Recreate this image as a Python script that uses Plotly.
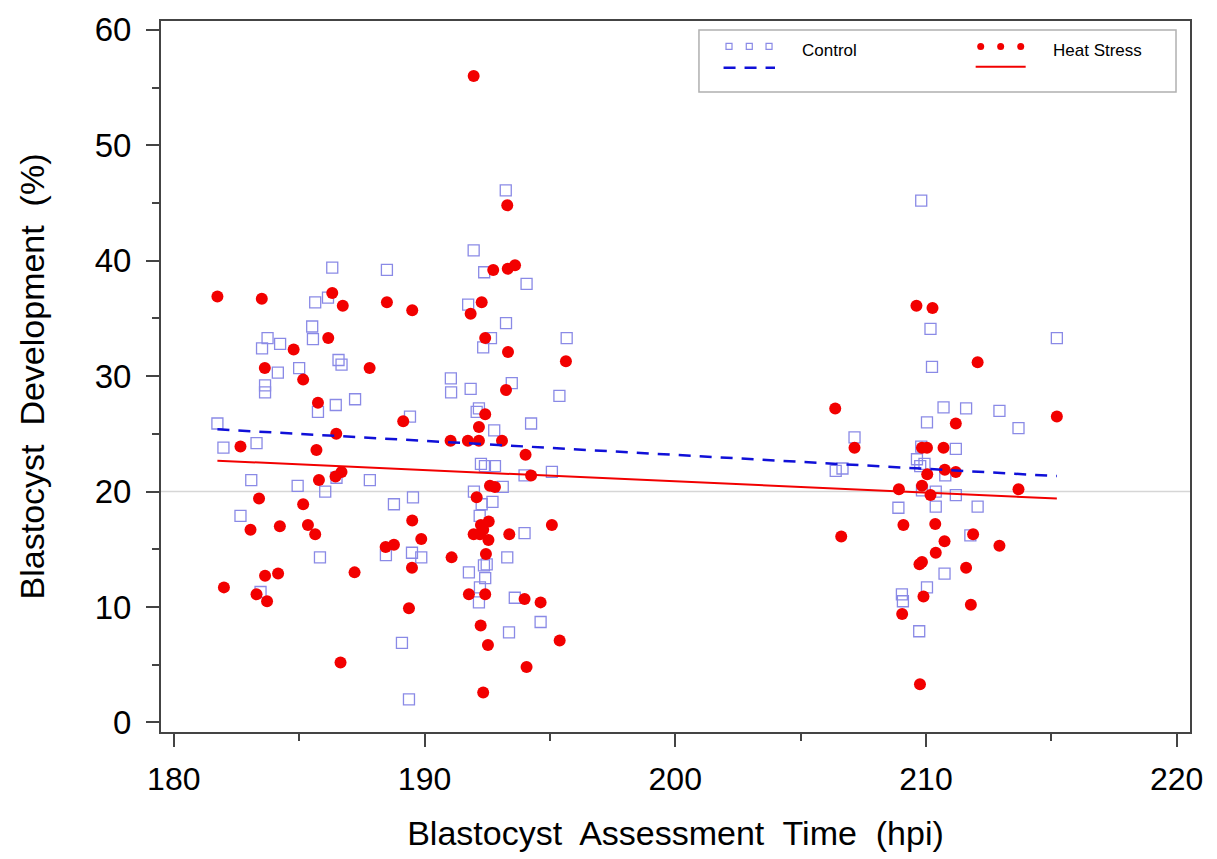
import plotly.graph_objects as go

# ---- data ----
control_x = [181.74, 181.98, 183.3, 182.66, 183.09, 183.46, 183.52, 183.74, 183.64, 183.64,
             184.24, 184.15, 185.0, 184.94, 185.52, 185.55, 185.64, 185.75, 185.83, 186.04,
             186.15, 186.32, 186.46, 186.49, 186.57, 186.69, 187.23, 187.82, 188.46, 188.5,
             188.78, 189.1, 189.38, 189.42, 189.5, 189.54, 189.87, 191.05, 191.06, 191.74,
             191.77, 191.84, 191.96, 191.97, 192.08, 192.17, 192.17, 192.2, 192.21, 192.25,
             192.28, 192.34, 192.37, 192.38, 192.41, 192.42, 192.48, 192.65, 192.71, 192.78,
             192.81, 193.12, 193.24, 193.25, 193.3, 193.37, 193.48, 193.6, 193.99, 193.99,
             194.07, 194.25, 194.63, 195.08, 195.38, 195.67,
             206.4, 206.67, 207.15, 208.9, 209.04, 209.08, 209.64, 209.73, 209.77, 209.81,
             209.81, 209.84, 209.94, 210.04, 210.04, 210.18, 210.24, 210.39, 210.39, 210.7,
             210.74, 210.77, 211.19, 211.19, 211.6, 211.77, 212.06, 212.93, 213.69, 215.22]
control_y = [25.9, 23.8, 24.2, 17.9, 21.0, 11.3, 32.4, 33.3, 29.2, 28.6,
             32.8, 30.3, 30.7, 20.5, 34.3, 33.2, 36.4, 26.9, 14.3, 20.0,
             36.8, 39.4, 27.5, 21.2, 31.4, 31.0, 28.0, 21.0, 14.5, 39.2,
             18.9, 6.9, 2.0, 26.5, 14.7, 19.5, 14.3, 29.8, 28.6, 36.2,
             13.0, 28.9, 40.9, 20.0, 26.9, 27.2, 10.4, 17.9, 11.7, 22.4,
             18.9, 32.5, 13.6, 39.0, 22.2, 12.5, 13.7, 33.3, 19.1, 25.3,
             22.2, 20.4, 46.1, 34.6, 14.3, 7.8, 29.4, 10.8, 21.4, 16.4,
             38.0, 25.9, 8.7, 21.7, 28.3, 33.3,
             21.8, 22.0, 24.7, 18.6, 11.1, 10.5, 22.8, 7.9, 22.2, 23.9,
             45.2, 20.1, 22.4, 26.0, 11.7, 34.1, 30.8, 20.0, 18.7, 27.3,
             12.9, 21.4, 23.7, 19.7, 27.2, 16.2, 18.7, 27.0, 25.5, 33.3]

heat_x = [181.74, 182.0, 182.66, 183.06, 183.3, 183.4, 183.51, 183.63, 183.64, 183.72,
          184.16, 184.23, 184.78, 185.16, 185.16, 185.35, 185.64, 185.69, 185.75, 185.79,
          186.16, 186.32, 186.45, 186.48, 186.65, 186.69, 186.74, 187.21, 187.81, 188.45,
          188.5, 188.78, 189.15, 189.38, 189.5, 189.51, 189.51, 189.87, 191.04, 191.08,
          191.73, 191.77, 191.84, 191.96, 191.96, 192.08, 192.17, 192.17, 192.21, 192.24,
          192.25, 192.28, 192.34, 192.34, 192.42, 192.42, 192.42, 192.45, 192.53, 192.55,
          192.56, 192.61, 192.74, 192.81, 193.09, 193.25, 193.3, 193.32, 193.33, 193.38,
          193.61, 193.99, 194.03, 194.07, 194.25, 194.63, 195.08, 195.39, 195.64,
          206.38, 206.62, 207.15, 208.92, 209.05, 209.1, 209.62, 209.74, 209.76, 209.84,
          209.84, 209.84, 209.9, 210.04, 210.05, 210.18, 210.26, 210.37, 210.39, 210.7,
          210.74, 210.75, 211.19, 211.19, 211.6, 211.79, 211.88, 212.06, 212.93, 213.69, 215.22]
heat_y = [36.9, 11.7, 23.9, 16.7, 11.1, 19.4, 36.7, 30.7, 12.7, 10.5,
          12.9, 17.0, 32.3, 29.7, 18.9, 17.1, 16.3, 23.6, 27.7, 21.0,
          33.3, 37.2, 21.3, 25.0, 5.2, 21.7, 36.1, 13.0, 30.7, 15.2,
          36.4, 15.4, 26.1, 9.9, 13.4, 35.7, 17.5, 15.9, 24.4, 14.3,
          24.4, 11.1, 35.4, 56.0, 16.3, 19.5, 25.6, 24.4, 16.3, 8.4,
          17.1, 36.4, 16.7, 2.6, 33.3, 26.7, 11.1, 14.6, 6.7, 15.8,
          17.4, 20.5, 39.2, 20.4, 24.4, 28.8, 44.8, 39.3, 32.1, 16.3,
          39.6, 10.7, 23.2, 4.8, 21.4, 10.4, 17.1, 7.1, 31.3,
          27.2, 16.1, 23.8, 20.2, 9.4, 17.1, 36.1, 13.7, 3.3, 23.8,
          20.5, 13.9, 10.9, 23.8, 21.5, 19.7, 35.9, 17.2, 14.7, 23.8,
          15.7, 21.9, 25.9, 21.7, 13.4, 10.2, 16.3, 31.2, 15.3, 20.2, 26.5]

# fitted regression lines (endpoints)
fit_x = [181.74, 215.22]
control_fit = [25.39, 21.34]
heat_fit = [22.68, 19.39]

reference_y = 20
x_ticks = [180, 190, 200, 210, 220]
y_ticks = [0, 10, 20, 30, 40, 50, 60]

BLUE_SQ = "#8a8ae6"
BLUE_LINE = "#1010d8"
RED = "#f20000"
AXIS = "#444444"
FONT = "Liberation Sans, Arial, sans-serif"

fig = go.Figure()

fig.add_trace(go.Scatter(x=control_x, y=control_y, mode="markers", name="Control",
                         marker=dict(symbol="square-open", size=11, color=BLUE_SQ,
                                     line=dict(width=1.3, color=BLUE_SQ)),
                         showlegend=False))
fig.add_trace(go.Scatter(x=heat_x, y=heat_y, mode="markers", name="Heat Stress",
                         marker=dict(symbol="circle", size=12, color=RED,
                                     line=dict(width=0)),
                         showlegend=False))
fig.add_trace(go.Scatter(x=fit_x, y=control_fit, mode="lines", showlegend=False,
                         line=dict(color=BLUE_LINE, width=2.5, dash="12px,9px")))
fig.add_trace(go.Scatter(x=fit_x, y=heat_fit, mode="lines", showlegend=False,
                         line=dict(color=RED, width=2)))

# ---- custom legend (overlay axis in paper-like 0..1 units) ----
lg_sq_x = [0.552, 0.5717, 0.5909]
lg_dot_x = [0.7966, 0.816, 0.8355]
lg_row1 = 0.9643
fig.add_trace(go.Scatter(x=lg_sq_x, y=[lg_row1] * 3, xaxis="x2", yaxis="y2", mode="markers",
                         showlegend=False, hoverinfo="skip",
                         marker=dict(symbol="square-open", size=6, color=BLUE_SQ,
                                     line=dict(width=1.2, color=BLUE_SQ))))
fig.add_trace(go.Scatter(x=lg_dot_x, y=[lg_row1] * 3, xaxis="x2", yaxis="y2", mode="markers",
                         showlegend=False, hoverinfo="skip",
                         marker=dict(symbol="circle", size=7, color=RED)))
fig.add_trace(go.Scatter(x=[0.5467, 0.5967], y=[0.9343, 0.9343], xaxis="x2", yaxis="y2",
                         mode="lines", showlegend=False, hoverinfo="skip",
                         line=dict(color=BLUE_LINE, width=2.5, dash="12px,9px")))
fig.add_trace(go.Scatter(x=[0.7917, 0.8403], y=[0.9357, 0.9357], xaxis="x2", yaxis="y2",
                         mode="lines", showlegend=False, hoverinfo="skip",
                         line=dict(color=RED, width=2)))

fig.add_shape(type="rect", xref="paper", yref="paper", x0=0.5228, x1=0.9864, y0=0.900, y1=0.9875,
              line=dict(color="#b0b0b0", width=1.5), fillcolor="rgba(0,0,0,0)")
fig.add_annotation(xref="paper", yref="paper", x=0.621, y=0.9587, text="Control",
                   showarrow=False, xanchor="left", yanchor="middle",
                   font=dict(family=FONT, size=17, color="black"))
fig.add_annotation(xref="paper", yref="paper", x=0.8649, y=0.9587, text="Heat Stress",
                   showarrow=False, xanchor="left", yanchor="middle",
                   font=dict(family=FONT, size=17, color="black"))

# reference line at 20
fig.add_shape(type="line", xref="paper", yref="y", x0=0, x1=1, y0=reference_y, y1=reference_y,
              line=dict(color="#d6d6d6", width=1.5), layer="below")

axis_common = dict(showline=True, linecolor=AXIS, linewidth=2, mirror=True,
                   ticks="outside", ticklen=13, tickwidth=1.5, tickcolor=AXIS,
                   showgrid=False, zeroline=False)

fig.update_layout(
    width=1217, height=859,
    margin=dict(l=161, r=27, t=12, b=127),
    paper_bgcolor="white", plot_bgcolor="white",
    showlegend=False,
    xaxis=dict(range=[179.49, 220.53], tickvals=x_ticks, ticklabelstandoff=5,
               tickfont=dict(family=FONT, size=32, color="black"),
               minor=dict(dtick=5, tick0=180, ticks="outside", ticklen=7, tickcolor=AXIS, tickwidth=1.5),
               title=dict(text="Blastocyst  Assessment  Time  (hpi)", standoff=25,
                          font=dict(family=FONT, size=34, color="black")),
               **axis_common),
    yaxis=dict(range=[-0.83, 60.77], tickvals=y_ticks, ticklabelstandoff=8,
               tickfont=dict(family=FONT, size=33, color="black"),
               minor=dict(dtick=5, tick0=0, ticks="outside", ticklen=7, tickcolor=AXIS, tickwidth=1.5),
               title=dict(text="Blastocyst  Development  (%)", standoff=40,
                          font=dict(family=FONT, size=34, color="black")),
               **axis_common),
    xaxis2=dict(overlaying="x", range=[0, 1], visible=False),
    yaxis2=dict(overlaying="y", range=[0, 1], visible=False),
)

fig.write_html("out.html")
